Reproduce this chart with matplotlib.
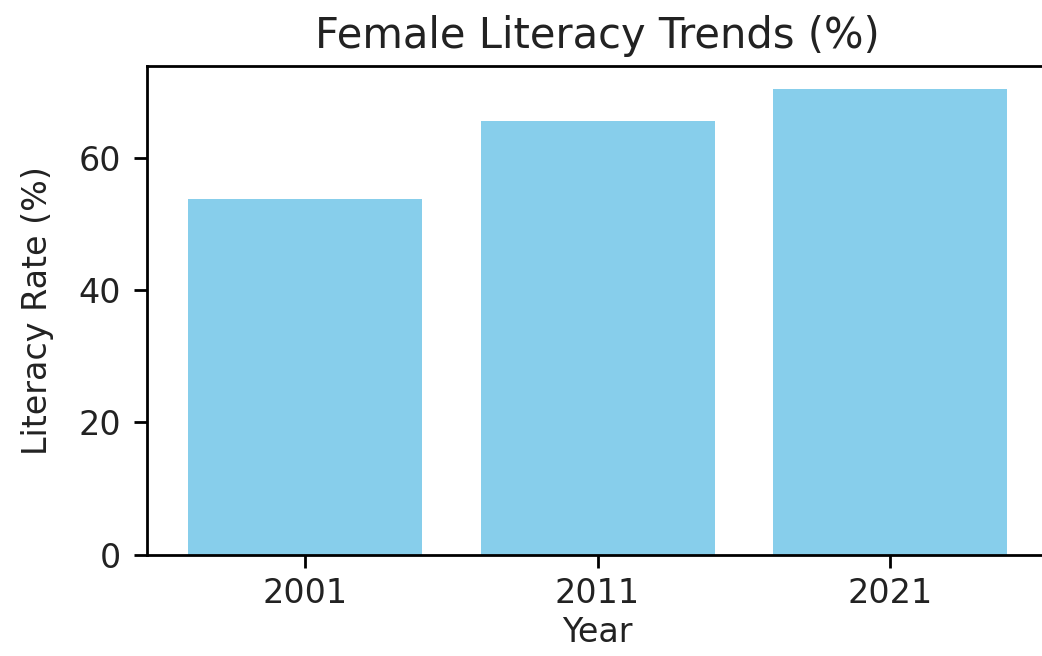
import matplotlib
matplotlib.use("Agg")
import matplotlib.pyplot as plt

years = ["2001", "2011", "2021"]
literacy = [53.7, 65.5, 70.3]
yticks = [0, 20, 40, 60]

plt.rcParams["font.size"] = 24
plt.rcParams["text.color"] = "#222222"
plt.rcParams["axes.labelcolor"] = "#222222"
plt.rcParams["xtick.labelcolor"] = "#222222"
plt.rcParams["ytick.labelcolor"] = "#222222"
plt.rcParams["axes.linewidth"] = 2.0
plt.rcParams["xtick.major.size"] = 9.5
plt.rcParams["ytick.major.size"] = 9.5
plt.rcParams["xtick.major.width"] = 2.0
plt.rcParams["ytick.major.width"] = 2.0
plt.rcParams["xtick.major.pad"] = 6
plt.rcParams["ytick.major.pad"] = 9

fig = plt.figure(figsize=(10.42, 6.56), dpi=100)
ax = fig.add_axes([0.1411, 0.154, 0.8647, 0.7454])
ax.bar(years, literacy, color="skyblue")
ax.set_yticks(yticks)
ax.set_title("Female Literacy Trends (%)", fontsize=30, pad=13)
ax.set_xlabel("Year", labelpad=5)
ax.set_ylabel("Literacy Rate (%)", labelpad=18)

fig.savefig("out.png")
